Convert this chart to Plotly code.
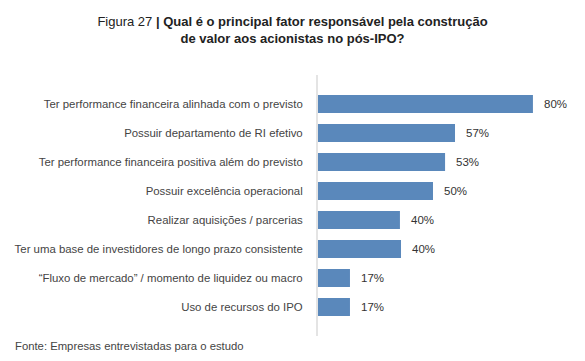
import plotly.graph_objects as go

categories = [
    "Ter performance financeira alinhada com o previsto",
    "Possuir departamento de RI efetivo",
    "Ter performance financeira positiva além do previsto",
    "Possuir excelência operacional",
    "Realizar aquisições / parcerias",
    "Ter uma base de investidores de longo prazo consistente",
    "“Fluxo de mercado” / momento de liquidez ou macro",
    "Uso de recursos do IPO",
]
# bar lengths as drawn in the picture (scaled so the first bar = 80)
bar_values = [80, 51, 47.3, 42.8, 30.5, 30.9, 11.9, 11.9]
# value labels printed next to the bars
pct_labels = ["80%", "57%", "53%", "50%", "40%", "40%", "17%", "17%"]

BAR = "#5a88bb"
FONT = "Liberation Sans, Arial, sans-serif"

fig = go.Figure(
    go.Bar(
        x=bar_values,
        y=categories,
        orientation="h",
        marker=dict(color=BAR, line=dict(width=0)),
        width=0.62,
        hoverinfo="skip",
    )
)

for v, c, t in zip(bar_values, categories, pct_labels):
    fig.add_annotation(
        x=v, y=c, text=t, showarrow=False, xanchor="left", xshift=9,
        font=dict(family=FONT, size=11.5, color="#333333"),
    )

fig.add_annotation(
    text="Fonte: Empresas entrevistadas para o estudo",
    xref="paper", yref="paper", x=-318 / 252, y=-2 / 261,
    xanchor="left", yanchor="top", showarrow=False, xshift=13,
    font=dict(family=FONT, size=11.3, color="#444444"),
)

fig.update_layout(
    width=585, height=361,
    margin=dict(l=318, r=15, t=75, b=25),
    paper_bgcolor="white", plot_bgcolor="white",
    showlegend=False,
    title=dict(
        text="Figura 27 <b>| Qual é o principal fator responsável pela construção<br>de valor aos acionistas no pós-IPO?</b>",
        x=0.5, xanchor="center",
        y=1 - 26 / 361, yanchor="middle", yref="container",
        font=dict(family=FONT, size=13, color="#222222"),
    ),
    xaxis=dict(
        range=[0, 93.8], showgrid=False, zeroline=False, showticklabels=False,
        showline=False, fixedrange=True,
    ),
    yaxis=dict(
        type="category", categoryorder="array", categoryarray=categories,
        range=[8, -1], showgrid=False, zeroline=False,
        showline=True, linecolor="#e4e4e4", linewidth=2,
        ticks="", ticklabelstandoff=11,
        tickfont=dict(family=FONT, size=11.4, color="#444444"),
    ),
)

fig.write_html("out.html")
